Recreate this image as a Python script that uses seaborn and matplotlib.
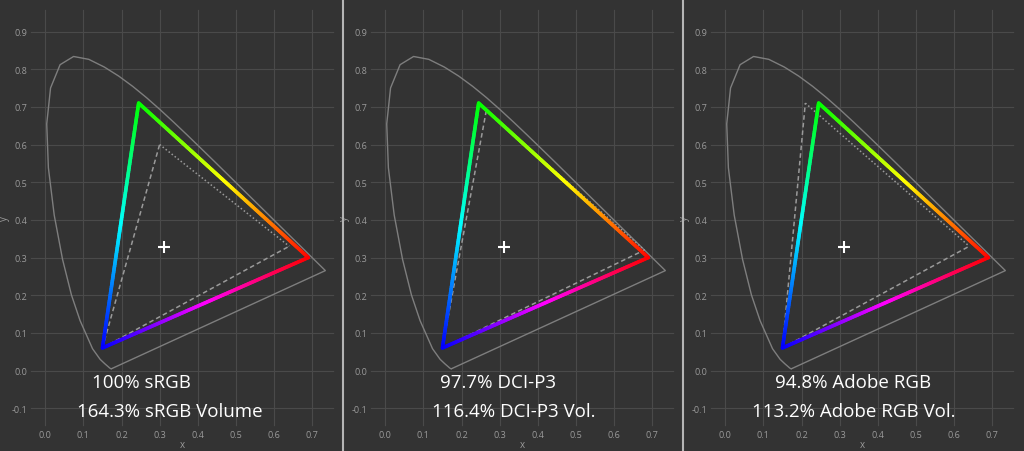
import numpy as np
import matplotlib
matplotlib.use("Agg")
import matplotlib.pyplot as plt
import matplotlib.colors as mcolors
from matplotlib.collections import LineCollection
import seaborn as sns

# CIE 1931 spectral locus (approximate)
locus_x = [0.1741, 0.1738, 0.1733, 0.1726, 0.1714, 0.1689, 0.1644, 0.1566, 0.1440, 0.1241,
           0.0913, 0.0687, 0.0454, 0.0235, 0.0082, 0.0039, 0.0139, 0.0389, 0.0743, 0.1142,
           0.1547, 0.1929, 0.2296, 0.2658, 0.3016, 0.3373, 0.3731, 0.4087, 0.4441, 0.4788,
           0.5125, 0.5448, 0.5752, 0.6029, 0.6270, 0.6482, 0.6658, 0.6801, 0.6915, 0.7006,
           0.7079, 0.7140, 0.7190, 0.7230, 0.7260, 0.7347]
locus_y = [0.0050, 0.0049, 0.0048, 0.0048, 0.0051, 0.0069, 0.0109, 0.0177, 0.0297, 0.0578,
           0.1327, 0.2007, 0.2950, 0.4127, 0.5384, 0.6548, 0.7502, 0.8120, 0.8338, 0.8262,
           0.8059, 0.7816, 0.7543, 0.7243, 0.6923, 0.6589, 0.6245, 0.5896, 0.5547, 0.5202,
           0.4866, 0.4544, 0.4242, 0.3965, 0.3725, 0.3514, 0.3340, 0.3197, 0.3083, 0.2993,
           0.2920, 0.2859, 0.2809, 0.2770, 0.2740, 0.2653]

# measured gamut (x, y) for R, G, B
meas_x = [0.690, 0.245, 0.150]
meas_y = [0.300, 0.710, 0.060]

# reference gamuts
ref_names = ["sRGB", "DCI-P3", "Adobe RGB"]
ref_x = [[0.640, 0.300, 0.150], [0.680, 0.265, 0.150], [0.640, 0.210, 0.150]]
ref_y = [[0.330, 0.600, 0.060], [0.320, 0.690, 0.060], [0.330, 0.710, 0.060]]

white_x, white_y = 0.3127, 0.3290

line1 = ["100% sRGB", "97.7% DCI-P3", "94.8% Adobe RGB"]
line2 = ["164.3% sRGB Volume", "116.4% DCI-P3 Vol.", "113.2% Adobe RGB Vol."]
text_x1 = [0.123, 0.144, 0.130]
text_x2 = [0.084, 0.123, 0.070]

bg = "#333333"
sns.set_theme(style="darkgrid", rc={"axes.facecolor": bg, "figure.facecolor": bg,
                                    "grid.color": "#4a4a4a", "grid.linewidth": 0.8,
                                    "axes.edgecolor": bg})
plt.rcParams['font.family'] = ['Open Sans', 'DejaVu Sans']

fig = plt.figure(figsize=(10.24, 4.52), dpi=100)

hues = [0.0, 1 / 3, 2 / 3, 1.0]  # R, G, B, back to R


def gradient_edge(ax, p0, p1, h0, h1, n=120):
    t = np.linspace(0, 1, n + 1)
    xs = p0[0] + (p1[0] - p0[0]) * t
    ys = p0[1] + (p1[1] - p0[1]) * t
    pts = np.column_stack([xs, ys]).reshape(-1, 1, 2)
    segs = np.concatenate([pts[:-1], pts[1:]], axis=1)
    hh = (h0 + (h1 - h0) * (t[:-1] + t[1:]) / 2)
    cols = [mcolors.hsv_to_rgb((h % 1.0, 1.0, 1.0)) for h in hh]
    lc = LineCollection(segs, colors=cols, linewidth=2.6, capstyle="round", zorder=4)
    ax.add_collection(lc)


for i in range(3):
    left = (30 + 340 * i) / 1024
    ax = fig.add_axes([left, 0.053, 305 / 1024, 0.925])
    ax.set_xlim(-0.04, 0.76)
    ax.set_ylim(-0.15, 0.96)
    ax.set_xticks(np.arange(0, 0.71, 0.1))
    ax.set_yticks(np.arange(-0.1, 0.91, 0.1))
    ax.set_xticklabels([f"{v:.1f}" for v in np.arange(0, 0.71, 0.1)])
    ax.set_yticklabels([f"{v:.1f}" for v in np.arange(-0.1, 0.91, 0.1)])
    ax.tick_params(colors="#9a9a9a", labelsize=6.5, length=0, pad=2)
    ax.set_xlabel("x", color="#9a9a9a", fontsize=7, labelpad=0)
    ax.set_ylabel("y", color="#9a9a9a", fontsize=7, labelpad=1)

    # spectral locus, closed by the purple line
    lx = locus_x + [locus_x[0]]
    ly = locus_y + [locus_y[0]]
    ax.plot(lx, ly, color="#7e7e7e", lw=1.0, zorder=2, solid_joinstyle="round")

    # reference gamut: dashed + dotted
    rx, ry = ref_x[i], ref_y[i]
    ax.plot([rx[2], rx[1]], [ry[2], ry[1]], color="#9a9a9a", lw=1.1, ls=(0, (3, 2)), zorder=3)
    ax.plot([rx[2], rx[0]], [ry[2], ry[0]], color="#9a9a9a", lw=1.1, ls=(0, (3, 2)), zorder=3)
    ax.plot([rx[1], rx[0]], [ry[1], ry[0]], color="#9a9a9a", lw=1.1, ls=(0, (1, 1.5)), zorder=3)

    # measured gamut with hue gradient
    pr = (meas_x[0], meas_y[0])
    pg = (meas_x[1], meas_y[1])
    pb = (meas_x[2], meas_y[2])
    gradient_edge(ax, pr, pg, hues[0], hues[1])
    gradient_edge(ax, pg, pb, hues[1], hues[2])
    gradient_edge(ax, pb, pr, hues[2], hues[3])

    sns.scatterplot(x=[white_x], y=[white_y], marker="+", s=70, color="white",
                    linewidth=1.5, ax=ax, zorder=5)

    ax.text(text_x1[i], -0.03, line1[i], color="white", fontsize=13.5, va="center", zorder=6)
    ax.text(text_x2[i], -0.107, line2[i], color="white", fontsize=13.5, va="center", zorder=6)

# panel separators
for xs in [343, 683]:
    fig.add_artist(plt.Line2D([xs / 1024, xs / 1024], [0, 1], color="#b5b5b5", lw=1.5))

fig.savefig("out.png", dpi=100, facecolor=bg)
